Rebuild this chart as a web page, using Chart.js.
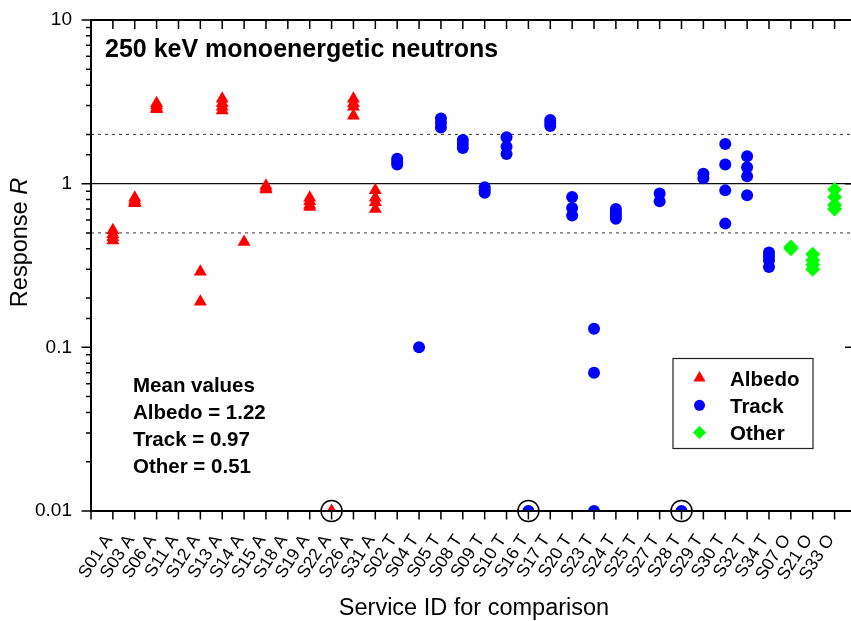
<!DOCTYPE html>
<html>
<head>
<meta charset="utf-8">
<script src="https://cdn.jsdelivr.net/npm/chart.js@4.4.1/dist/chart.umd.min.js"></script>
<style>
html,body{margin:0;padding:0;background:#fff;}
#wrap{width:851px;height:621px;position:relative;}
</style>
</head>
<body>
<div id="wrap"><canvas id="c" width="851" height="621"></canvas></div>
<script>
// ---- data ----
const categories = [
  'S01 A','S03 A','S06 A','S11 A','S12 A','S13 A','S14 A','S15 A','S18 A','S19 A','S22 A','S26 A','S31 A',
  'S02 T','S04 T','S05 T','S08 T','S09 T','S10 T','S16 T','S17 T','S20 T','S23 T','S24 T','S25 T','S27 T','S28 T','S29 T','S30 T','S32 T','S34 T',
  'S07 O','S21 O','S33 O'
];
// values per category, in the order of the ' A' categories above
const albedoValues = [
  [0.52,0.49,0.47,0.45], [0.82,0.79,0.77,0.76], [3.1,3.0,2.9,2.85], [], [0.29,0.19],
  [3.3,3.1,2.95,2.8], [0.44], [0.97,0.94,0.92], [], [0.82,0.78,0.74,0.72], [0.01],
  [3.3,3.1,2.95,2.6], [0.91,0.82,0.77,0.7]
];
// values per category, in the order of the ' T' categories above
const trackValues = [
  [1.42,1.36,1.31], [0.1], [2.5,2.35,2.2], [1.85,1.75,1.65], [0.95,0.91,0.88], [1.92,1.68,1.52],
  [0.01], [2.45,2.35,2.25], [0.83,0.71,0.64], [0.13,0.07,0.01], [0.7,0.67,0.64,0.61], [],
  [0.87,0.78], [0.01], [1.15,1.08], [1.75,1.31,0.91,0.57], [1.47,1.26,1.11,0.85], [0.38,0.36,0.34,0.31]
];
// values per category, in the order of the ' O' categories above
const otherValues = [
  [0.41,0.40], [0.37,0.34,0.32,0.30], [0.92,0.83,0.74,0.70]
];
const circledIds = ['S22 A','S16 T','S28 T'];
const circledValues = [0.01, 0.01, 0.01];
const solidRefValues = [1];
const dashedRefValues = [2, 0.5];
const yDecadeLabels = ['0.01','0.1','1','10'];
const titleText = '250 keV monoenergetic neutrons';
const meanLines = ['Mean values','Albedo = 1.22','Track = 0.97','Other = 0.51'];
const legendLabels = ['Albedo','Track','Other'];
const xTitle = 'Service ID for comparison';
const yTitleMain = 'Response ';
const yTitleItalic = 'R';

// ---- build datasets ----
const X_MAX = 34.75;
function buildPoints(suffix, values) {
  const ids = categories.filter(c => c.endsWith(suffix));
  const pts = [];
  ids.forEach((id, i) => (values[i] || []).forEach(v => pts.push({x: categories.indexOf(id) + 1, y: v})));
  return pts;
}
function refLine(v) { return [{x: 0, y: v}, {x: X_MAX, y: v}]; }
function isDecade(v) { const l = Math.log10(v); return Math.abs(l - Math.round(l)) < 1e-6; }

const FONT = '"Liberation Sans", Arial, Helvetica, sans-serif';

const datasets = [
  {label: 'Albedo', data: buildPoints(' A', albedoValues), pointStyle: 'triangle', pointRadius: 7.5,
   backgroundColor: '#ff0000', borderColor: '#ff0000', borderWidth: 0, order: 3, clip: 0, showLine: false},
  {label: 'Track', data: buildPoints(' T', trackValues), pointStyle: 'circle', pointRadius: 6,
   backgroundColor: '#0000ff', borderColor: '#0000ff', borderWidth: 0, order: 2, clip: 0, showLine: false},
  {label: 'Other', data: buildPoints(' O', otherValues), pointStyle: 'rectRot', pointRadius: 7.5,
   backgroundColor: '#00ff00', borderColor: '#00ff00', borderWidth: 0, order: 1, clip: 0, showLine: false},
  {label: 'circled', data: circledIds.map((id, i) => ({x: categories.indexOf(id) + 1, y: circledValues[i]})),
   pointStyle: 'circle', pointRadius: 10.5, backgroundColor: 'rgba(0,0,0,0)', borderColor: '#000',
   borderWidth: 1.5, order: 0, clip: false, showLine: false}
];
solidRefValues.forEach(v => datasets.push({type: 'line', label: 'ref', data: refLine(v), borderColor: '#111',
  borderWidth: 1.3, pointRadius: 0, order: 10, clip: 0}));
dashedRefValues.forEach(v => datasets.push({type: 'line', label: 'ref', data: refLine(v), borderColor: '#333',
  borderWidth: 1, borderDash: [3, 4], pointRadius: 0, order: 10, clip: 0}));

const decorPlugin = {
  id: 'decor',
  afterDraw(chart) {
    const {ctx, chartArea: a, scales: {x, y}} = chart;
    ctx.save();
    ctx.strokeStyle = '#000';
    ctx.lineWidth = 1.5;
    ctx.beginPath();
    x.ticks.forEach(t => {
      const px = x.getPixelForValue(t.value);
      ctx.moveTo(px, a.bottom); ctx.lineTo(px, a.bottom + 8.5);
      if (t.value > 0) { ctx.moveTo(px, a.top); ctx.lineTo(px, a.top + 9); }
    });
    y.ticks.forEach(t => {
      const py = y.getPixelForValue(t.value);
      const major = isDecade(t.value);
      ctx.moveTo(a.left, py); ctx.lineTo(a.left - (major ? 9.5 : 5), py);
      if (major) { ctx.moveTo(a.right, py); ctx.lineTo(a.right - 6, py); }
    });
    ctx.stroke();
    ctx.lineWidth = 2;
    ctx.beginPath();
    ctx.moveTo(a.left, a.top); ctx.lineTo(a.right, a.top);
    ctx.moveTo(a.left, a.top - 1); ctx.lineTo(a.left, a.bottom + 1);
    ctx.moveTo(a.left, a.bottom); ctx.lineTo(a.right, a.bottom);
    ctx.stroke();

    // texts
    ctx.fillStyle = '#000';
    ctx.textBaseline = 'alphabetic';
    ctx.textAlign = 'left';
    ctx.font = 'bold 25px ' + FONT;
    ctx.fillText(titleText, 105, 57);
    ctx.font = 'bold 20.5px ' + FONT;
    meanLines.forEach((s, i) => ctx.fillText(s, 133, 392 + i * 27));

    // legend
    ctx.lineWidth = 1.2;
    ctx.strokeStyle = '#222';
    ctx.strokeRect(673, 358.5, 140, 90);
    const legendStyles = [
      {pointStyle: 'triangle', radius: 7, color: '#ff0000'},
      {pointStyle: 'circle', radius: 5.5, color: '#0000ff'},
      {pointStyle: 'rectRot', radius: 6.5, color: '#00ff00'}
    ];
    legendLabels.forEach((lab, i) => {
      const cy = 378 + i * 27.3;
      const st = legendStyles[i];
      ctx.fillStyle = st.color;
      ctx.strokeStyle = st.color;
      Chart.helpers.drawPoint(ctx, {pointStyle: st.pointStyle, radius: st.radius, rotation: 0, borderWidth: 0}, 699.5, cy);
      ctx.fillStyle = '#000';
      ctx.font = 'bold 20.5px ' + FONT;
      ctx.fillText(lab, 730, cy + 7.5);
    });

    // axis titles
    ctx.font = '23.5px ' + FONT;
    ctx.textAlign = 'center';
    ctx.fillText(xTitle, 474, 615);
    ctx.save();
    ctx.translate(27, 242.5);
    ctx.rotate(-Math.PI / 2);
    ctx.textAlign = 'left';
    ctx.font = '23.5px ' + FONT;
    const w1 = ctx.measureText(yTitleMain).width;
    ctx.font = 'italic 23.5px ' + FONT;
    const w2 = ctx.measureText(yTitleItalic).width;
    const x0 = -(w1 + w2) / 2;
    ctx.font = '23.5px ' + FONT;
    ctx.fillText(yTitleMain, x0, 0);
    ctx.font = 'italic 23.5px ' + FONT;
    ctx.fillText(yTitleItalic, x0 + w1, 0);
    ctx.restore();
    ctx.restore();
  }
};

new Chart(document.getElementById('c'), {
  type: 'scatter',
  data: {datasets},
  options: {
    responsive: false,
    devicePixelRatio: 1,
    animation: false,
    events: [],
    layout: {autoPadding: false, padding: {top: 20, right: 0, bottom: 0, left: 0}},
    plugins: {legend: {display: false}, tooltip: {enabled: false}, title: {display: false}},
    scales: {
      x: {
        type: 'linear', min: 0, max: X_MAX,
        grid: {display: false, drawTicks: false, tickLength: 0},
        border: {display: false},
        title: {display: false},
        ticks: {
          stepSize: 1, includeBounds: false, autoSkip: false, maxTicksLimit: 100,
          maxRotation: 57, minRotation: 57, padding: 20, labelOffset: -4, color: '#000',
          font: {family: FONT, size: 17.5},
          callback: v => (Number.isInteger(v) && v >= 1 && v <= categories.length) ? categories[v - 1] : ''
        },
        afterFit: s => { s.height = 110; s.paddingLeft = 0; s.paddingRight = 0; }
      },
      y: {
        type: 'logarithmic', min: 0.01, max: 10,
        grid: {display: false, drawTicks: false, tickLength: 0},
        border: {display: false},
        title: {display: false},
        ticks: {
          autoSkip: false, padding: 19, color: '#000', font: {family: FONT, size: 19},
          callback: v => {
            if (!isDecade(v)) return '';
            const idx = Math.round(Math.log10(v)) + 2;
            return yDecadeLabels[idx] || '';
          }
        },
        afterFit: s => { s.width = 91; s.paddingTop = 0; s.paddingBottom = 0; }
      }
    }
  },
  plugins: [decorPlugin]
});
</script>
</body>
</html>
